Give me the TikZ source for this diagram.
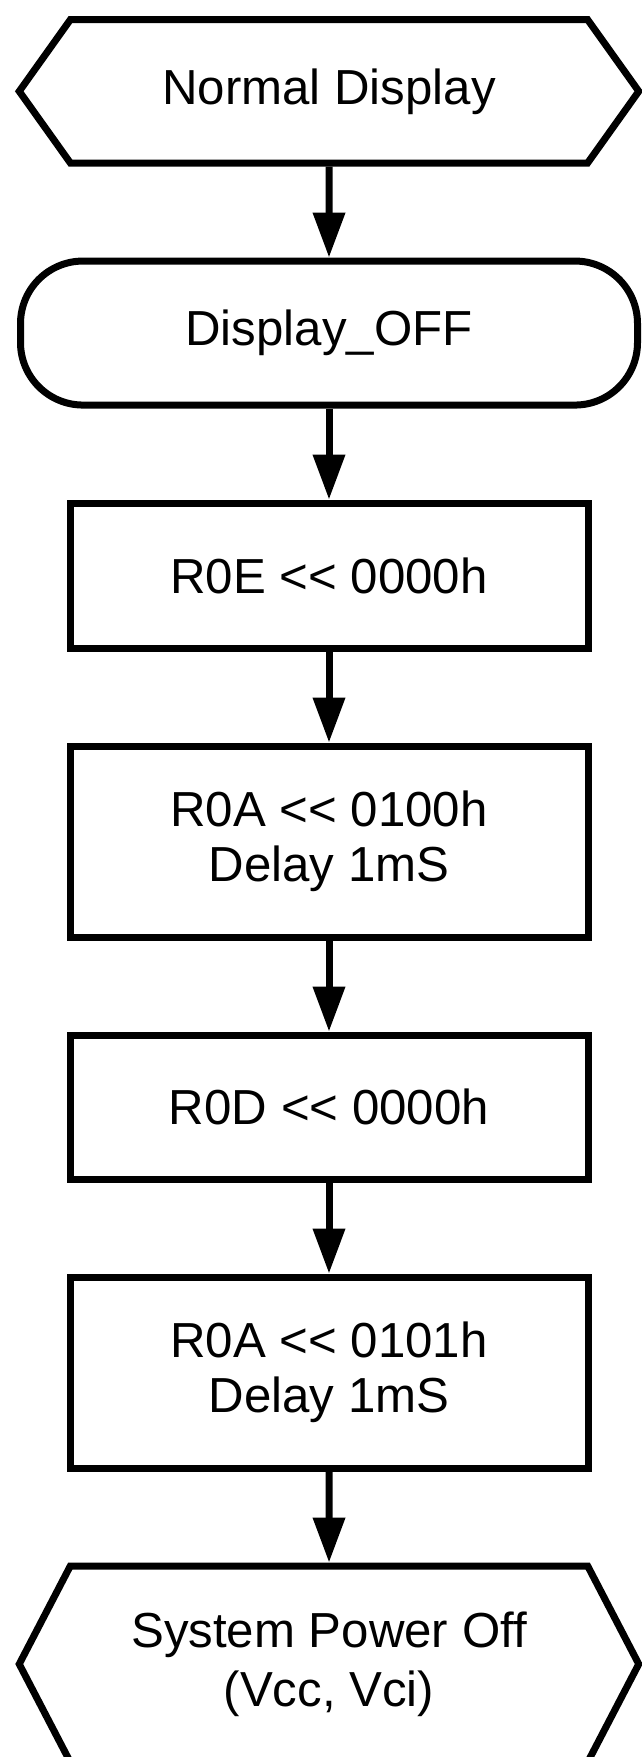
\documentclass[tikz,border=0pt]{standalone}
\usepackage{fontspec}
\setmainfont{Liberation Sans}
\usetikzlibrary{positioning, arrows.meta, shapes.symbols}

\begin{document}
\begin{tikzpicture}[node distance=1.82cm, >={Triangle[width=0.62cm, length=0.9cm]},
  every node/.style={line width=0.14cm, font=\fontsize{28}{31.3}\selectfont, align=center, inner sep=0pt},
  terminal/.style={signal, signal to=west and east, draw, minimum width=12.39cm, minimum height=2.87cm, signal pointer angle=109},
  subcall/.style={rectangle, draw, rounded corners=1.25cm, minimum width=12.34cm, minimum height=2.88cm},
  process/.style={rectangle, draw, minimum width=10.36cm, minimum height=2.9cm},
  flow/.style={->, line width=0.14cm}]
  \useasboundingbox (0,0) rectangle (12.82,-35.14);
  \node[terminal] (normal) at (6.58,-1.826) {Normal Display};
  \node[subcall, below=of normal] (dispoff) {Display\_OFF};
  \node[process, below=of dispoff] (r0e) {R0E <{}< 0000h};
  \node[process, below=of r0e, minimum height=3.82cm] (r0a1) {R0A <{}< 0100h\\Delay 1mS};
  \node[process, below=of r0a1, minimum height=2.88cm] (r0d) {R0D <{}< 0000h};
  \node[process, below=of r0d, minimum height=3.82cm] (r0a2) {R0A <{}< 0101h\\Delay 1mS};
  \node[terminal, below=of r0a2, minimum height=3.92cm, signal pointer angle=125, font=\fontsize{28}{33.5}\selectfont] (poweroff) {System Power Off\\(Vcc, Vci)};
  \draw[flow] (normal) -- (dispoff);
  \draw[flow] (dispoff) -- (r0e);
  \draw[flow] (r0e) -- (r0a1);
  \draw[flow] (r0a1) -- (r0d);
  \draw[flow] (r0d) -- (r0a2);
  \draw[flow] (r0a2) -- (poweroff);
\end{tikzpicture}
\end{document}
